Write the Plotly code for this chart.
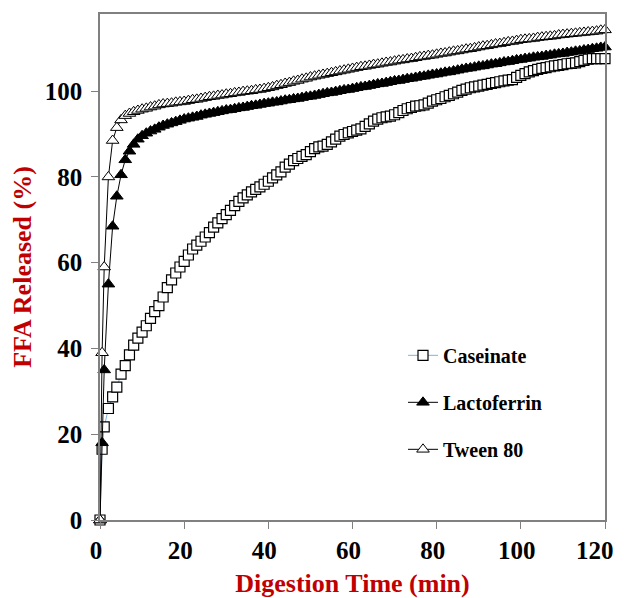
import plotly.graph_objects as go

# ---------- data ----------
time = [0, 0.5] + list(range(1, 121))

caseinate = [
    0, 16.5, 21.7, 26, 28.7, 31, 34, 36, 38.5, 40.8, 42.4, 43.8,
    45.3, 47, 48.6, 50, 52, 54.2, 56, 57.6, 59, 60.3,
    61.8, 63.2, 64.1, 65, 66, 67, 68.3, 69.3, 70.3, 71.2,
    72.2, 73.3, 74.3, 75.1, 75.8, 76.5, 77.1, 77.7, 78.3, 79,
    79.8, 80.5, 81.2, 82.3, 83, 83.8, 84.3, 84.8, 85.2, 85.9,
    86.6, 87, 87.2, 87.6, 88.2, 88.8, 89.5, 89.9, 90.3, 90.6,
    90.9, 91.2, 91.8, 92.4, 93, 93.5, 93.8, 94, 94.2, 94.5,
    95, 95.5, 95.9, 96.2, 96.5, 96.6, 96.8, 97.2, 97.7, 98,
    98.3, 98.7, 99, 99.4, 99.8, 100.2, 100.5, 100.8, 101, 101.2,
    101.4, 101.6, 101.8, 102, 102.2, 102.4, 102.6, 102.7, 103.2, 103.7,
    104.1, 104.5, 104.8, 105.1, 105.3, 105.5, 105.7, 105.9, 106, 106.2,
    106.4, 106.5, 106.6, 106.9, 107.2, 107.5, 107.6, 107.6, 107.6, 107.6,
]

lactoferrin = [
    0, 18, 35, 55, 68.5, 75.5, 80.5, 84, 86, 87.6, 88.8, 89.6,
    90.2, 90.7, 91.1, 91.6, 92, 92.3, 92.6, 92.9, 93.2, 93.5,
    93.7, 93.9, 94.1, 94.4, 94.6, 94.8, 95, 95.2, 95.4, 95.6,
    95.7, 95.9, 96.1, 96.2, 96.4, 96.6, 96.7, 96.9, 97.1, 97.2,
    97.4, 97.5, 97.7, 97.9, 98, 98.2, 98.3, 98.5, 98.7, 98.8,
    99, 99.2, 99.4, 99.6, 99.7, 99.9, 100.1, 100.3, 100.4, 100.6,
    100.8, 101, 101.1, 101.3, 101.5, 101.7, 101.8, 102, 102.2, 102.4,
    102.5, 102.7, 102.9, 103, 103.2, 103.4, 103.5, 103.7, 103.9, 104,
    104.2, 104.4, 104.5, 104.7, 104.9, 105.1, 105.3, 105.4, 105.6, 105.8,
    105.9, 106.1, 106.3, 106.4, 106.6, 106.8, 106.9, 107.1, 107.3, 107.4,
    107.6, 107.7, 107.9, 108, 108.1, 108.3, 108.4, 108.6, 108.7, 108.8,
    109, 109.1, 109.3, 109.4, 109.6, 109.7, 109.9, 110, 110.2, 110.3,
]

tween80 = [
    0, 39, 59, 80, 88.5, 91.5, 93.3, 94.3, 94.8, 95.2, 95.5, 95.8,
    96, 96.3, 96.5, 96.8, 97, 97.1, 97.2, 97.4, 97.5, 97.6,
    97.8, 98, 98.1, 98.3, 98.5, 98.7, 98.8, 99, 99.1, 99.3,
    99.4, 99.6, 99.7, 99.9, 100, 100.1, 100.3, 100.4, 100.6, 100.8,
    101, 101.3, 101.5, 101.8, 102, 102.3, 102.5, 102.8, 103, 103.3,
    103.5, 103.7, 103.9, 104.1, 104.3, 104.5, 104.7, 104.9, 105.1, 105.3,
    105.5, 105.7, 105.8, 106, 106.2, 106.3, 106.5, 106.7, 106.8, 107,
    107.2, 107.3, 107.5, 107.6, 107.8, 108, 108.1, 108.3, 108.4, 108.6,
    108.8, 108.9, 109.1, 109.3, 109.4, 109.6, 109.8, 109.9, 110.1, 110.3,
    110.5, 110.6, 110.8, 111, 111.1, 111.3, 111.5, 111.6, 111.8, 112,
    112.1, 112.2, 112.3, 112.5, 112.6, 112.7, 112.8, 112.9, 113.1, 113.2,
    113.3, 113.4, 113.5, 113.6, 113.7, 113.8, 113.9, 114, 114.2, 114.3,
]

x_ticks = [0, 20, 40, 60, 80, 100, 120]
# last label padded so it sits a little left of its tick and stays in view
x_labels = ["0", "20", "40", "60", "80", "100", "120\u00a0\u00a0"]
y_ticks = [0, 20, 40, 60, 80, 100]

FONT = "Liberation Serif"
RED = "#c00000"

fig = go.Figure()

fig.add_trace(go.Scatter(
    x=time, y=caseinate, name="Caseinate", legendgroup="a",
    mode="lines+markers",
    line=dict(color="#7fb2e0", width=1),
    marker=dict(symbol="square", size=10, color="white",
                line=dict(color="black", width=1.2)),
    cliponaxis=False,
))
fig.add_trace(go.Scatter(
    x=time, y=lactoferrin, name="Lactoferrin", legendgroup="b",
    mode="lines+markers",
    line=dict(color="black", width=1),
    marker=dict(symbol="triangle-up", size=11, color="black",
                line=dict(color="black", width=1)),
    cliponaxis=False,
))
fig.add_trace(go.Scatter(
    x=time, y=tween80, name="Tween 80", legendgroup="c",
    mode="lines+markers",
    line=dict(color="black", width=1),
    marker=dict(symbol="triangle-up", size=11, color="white",
                line=dict(color="black", width=1)),
    cliponaxis=False,
))

axis_common = dict(
    showline=True, linecolor="#808080", linewidth=1.5, mirror=True,
    ticks="outside", ticklen=7, tickcolor="#808080", tickwidth=1,
    showgrid=False, zeroline=False, automargin=False,
    ticklabeloverflow="allow",
    tickfont=dict(family=FONT, size=25, color="black", weight="bold"),
)

fig.update_xaxes(
    range=[0, 120], tickvals=x_ticks, ticktext=x_labels, ticklabelshift=-4,
    title=dict(text="Digestion Time (min)",
               font=dict(family=FONT, size=26, color=RED, weight="bold"),
               standoff=11),
    **axis_common,
)
fig.update_yaxes(
    range=[0, 118], tickvals=y_ticks, ticklabelstandoff=4,
    title=dict(text="FFA Released (%)",
               font=dict(family=FONT, size=26, color=RED, weight="bold"),
               standoff=13),
    **axis_common,
)

# page body adds an 8px offset, so the figure is sized to fit the window
fig.update_layout(
    width=616, height=590,
    margin=dict(l=92, r=19, t=6, b=78),
    plot_bgcolor="white", paper_bgcolor="white",
    legend=dict(x=0.60, y=0.364, xanchor="left", yanchor="top",
                font=dict(family=FONT, size=20, color="black", weight="bold"),
                bgcolor="rgba(0,0,0,0)", tracegroupgap=18),
    showlegend=True,
)

fig.write_html("out.html")
